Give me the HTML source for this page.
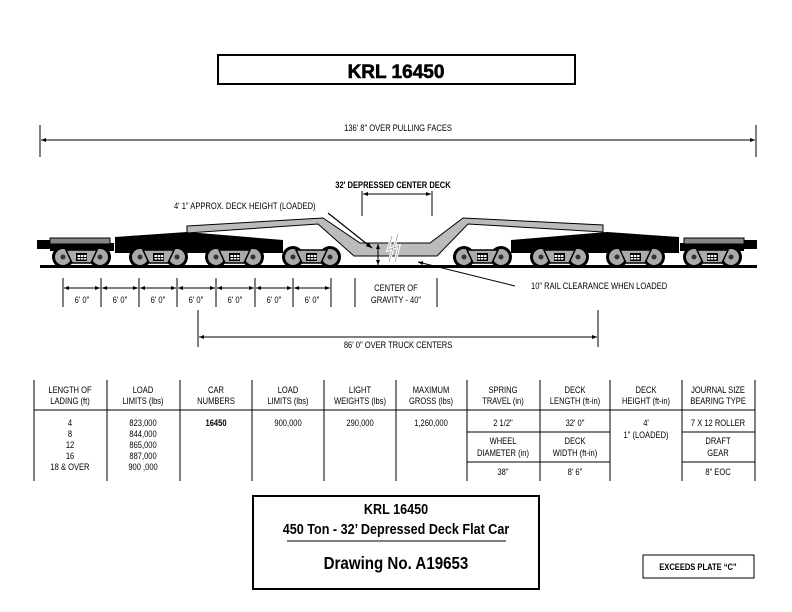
<!DOCTYPE html>
<html><head><style>
body{margin:0;background:#fff}
svg{display:block}
text{font-family:"Liberation Sans",sans-serif;fill:#000;transform-box:fill-box;transform-origin:center;transform:scaleX(.84)}
text.l{transform-origin:left center}
text.n{transform:none}
</style></head><body>
<svg width="792" height="612" viewBox="0 0 792 612" xmlns="http://www.w3.org/2000/svg">
<defs>
<marker id="a" viewBox="0 0 10 10" refX="10" refY="5" markerWidth="7" markerHeight="5" orient="auto-start-reverse"><path d="M0,1L10,5L0,9z" fill="#000"/></marker>
<g id="w">
<circle r="11" fill="#000"/><circle r="8" fill="#aaa"/><circle r="2.5" fill="#333"/>
</g>
<g id="t">
<use href="#w" x="0" y="0"/><use href="#w" x="37" y="0"/>
<path d="M3,-7 L34,-7 L28,6 L9,6 Z" fill="#aaa" stroke="#000" stroke-width="1.5"/>
<rect x="13" y="-4" width="11" height="8" fill="#000"/>
<rect x="14.5" y="-2" width="2.5" height="2" fill="#fff"/><rect x="17.7" y="-2" width="2.5" height="2" fill="#fff"/><rect x="20.9" y="-2" width="2.5" height="2" fill="#fff"/>
<rect x="14.5" y="1" width="2.5" height="1.5" fill="#fff"/><rect x="17.7" y="1" width="2.5" height="1.5" fill="#fff"/><rect x="20.9" y="1" width="2.5" height="1.5" fill="#fff"/>
</g>
<g id="half">
<rect x="37" y="240" width="20" height="9" fill="#000"/>
<rect x="50" y="243" width="64" height="8" fill="#000"/>
<rect x="50" y="238" width="60" height="6" fill="#888" stroke="#000" stroke-width="1"/>
<polygon points="115,237 187,232 283,240 283,253 115,253" fill="#000"/>
<use href="#t" x="63" y="257"/>
<use href="#t" x="140" y="257"/>
<use href="#t" x="216" y="257"/>
<use href="#t" x="293" y="257"/>
</g>
</defs>
<rect x="218" y="55" width="357" height="29" fill="#fff" stroke="#000" stroke-width="2"/>
<text class="n" x="396" y="78" font-weight="bold" font-size="19" text-anchor="middle" stroke="#000" stroke-width="0.6">KRL 16450</text>
<line x1="40" y1="125" x2="40" y2="157" stroke="#000"/>
<line x1="756" y1="125" x2="756" y2="157" stroke="#000"/>
<line x1="41" y1="140" x2="755" y2="140" stroke="#000" marker-start="url(#a)" marker-end="url(#a)"/>
<text x="398" y="131" font-size="9" text-anchor="middle">136' 8" OVER PULLING FACES</text>
<text x="393" y="188" font-size="9" font-weight="bold" text-anchor="middle">32' DEPRESSED CENTER DECK</text>
<line x1="362" y1="191" x2="362" y2="216" stroke="#000"/>
<line x1="432" y1="191" x2="432" y2="216" stroke="#000"/>
<line x1="363" y1="194" x2="431" y2="194" stroke="#000" marker-start="url(#a)" marker-end="url(#a)"/>
<text class="l" x="174" y="209" font-size="9">4' 1" APPROX. DECK HEIGHT (LOADED)</text>
<rect x="40" y="265" width="717" height="3" fill="#000"/>
<use href="#half"/>
<use href="#half" transform="translate(794,0) scale(-1,1)"/>
<polygon points="187,226 323,218 360,243 430,243 463,218 603,225 603,232 468,224 437,256 354,256 318,224 187,233" fill="#bbb" stroke="#000" stroke-width="1"/>
<line x1="328" y1="213" x2="372" y2="248" stroke="#000" stroke-width="1.2" marker-end="url(#a)"/>
<line x1="378" y1="244" x2="378" y2="265" stroke="#000" marker-start="url(#a)" marker-end="url(#a)"/>
<path d="M392,236 L388,250 L393,248 L389,262 M398,234 L394,248 L399,246 L395,262" stroke="#fff" stroke-width="3" fill="none"/>
<path d="M392,236 L388,250 L393,248 L389,262 M398,234 L394,248 L399,246 L395,262" stroke="#999" stroke-width="0.7" fill="none"/>
<line x1="515" y1="286" x2="418" y2="262" stroke="#000" marker-end="url(#a)"/>
<text class="l" x="531" y="289" font-size="9">10" RAIL CLEARANCE WHEN LOADED</text>
<g stroke="#000">
<line x1="63" y1="278" x2="63" y2="307"/><line x1="101" y1="278" x2="101" y2="307"/><line x1="139" y1="278" x2="139" y2="307"/><line x1="177" y1="278" x2="177" y2="307"/><line x1="216" y1="278" x2="216" y2="307"/><line x1="255" y1="278" x2="255" y2="307"/><line x1="293" y1="278" x2="293" y2="307"/><line x1="331" y1="278" x2="331" y2="307"/>
<line x1="355" y1="278" x2="355" y2="307"/><line x1="437" y1="278" x2="437" y2="307"/>
<line x1="64" y1="288" x2="100" y2="288" marker-start="url(#a)" marker-end="url(#a)"/>
<line x1="102" y1="288" x2="138" y2="288" marker-start="url(#a)" marker-end="url(#a)"/>
<line x1="140" y1="288" x2="176" y2="288" marker-start="url(#a)" marker-end="url(#a)"/>
<line x1="178" y1="288" x2="215" y2="288" marker-start="url(#a)" marker-end="url(#a)"/>
<line x1="217" y1="288" x2="254" y2="288" marker-start="url(#a)" marker-end="url(#a)"/>
<line x1="256" y1="288" x2="292" y2="288" marker-start="url(#a)" marker-end="url(#a)"/>
<line x1="294" y1="288" x2="330" y2="288" marker-start="url(#a)" marker-end="url(#a)"/>
</g>
<g font-size="9" text-anchor="middle">
<text x="82" y="303">6' 0"</text><text x="120" y="303">6' 0"</text><text x="158" y="303">6' 0"</text><text x="196" y="303">6' 0"</text><text x="235" y="303">6' 0"</text><text x="274" y="303">6' 0"</text><text x="312" y="303">6' 0"</text>
<text x="396" y="291">CENTER OF</text><text x="396" y="303">GRAVITY - 40"</text>
</g>
<line x1="198" y1="310" x2="198" y2="347" stroke="#000"/>
<line x1="598" y1="310" x2="598" y2="347" stroke="#000"/>
<line x1="199" y1="337" x2="597" y2="337" stroke="#000" marker-start="url(#a)" marker-end="url(#a)"/>
<text x="398" y="348" font-size="9" text-anchor="middle">86' 0" OVER TRUCK CENTERS</text>
<g stroke="#000" stroke-width="1">
<line x1="34" y1="380" x2="34" y2="481"/><line x1="107" y1="380" x2="107" y2="481"/><line x1="180" y1="380" x2="180" y2="481"/><line x1="252" y1="380" x2="252" y2="481"/><line x1="324" y1="380" x2="324" y2="481"/><line x1="396" y1="380" x2="396" y2="481"/><line x1="467" y1="380" x2="467" y2="481"/><line x1="540" y1="380" x2="540" y2="481"/><line x1="610" y1="380" x2="610" y2="481"/><line x1="682" y1="380" x2="682" y2="481"/><line x1="755" y1="380" x2="755" y2="481"/>
<line x1="34" y1="410" x2="755" y2="410"/>
<line x1="467" y1="432" x2="610" y2="432"/><line x1="682" y1="432" x2="755" y2="432"/>
<line x1="467" y1="462" x2="610" y2="462"/><line x1="682" y1="462" x2="755" y2="462"/>
</g>
<g font-size="9" text-anchor="middle">
<text x="70" y="393">LENGTH OF</text><text x="70" y="404">LADING (ft)</text>
<text x="143" y="393">LOAD</text><text x="143" y="404">LIMITS (lbs)</text>
<text x="216" y="393">CAR</text><text x="216" y="404">NUMBERS</text>
<text x="288" y="393">LOAD</text><text x="288" y="404">LIMITS (lbs)</text>
<text x="360" y="393">LIGHT</text><text x="360" y="404">WEIGHTS (lbs)</text>
<text x="431" y="393">MAXIMUM</text><text x="431" y="404">GROSS (lbs)</text>
<text x="503" y="393">SPRING</text><text x="503" y="404">TRAVEL (in)</text>
<text x="575" y="393">DECK</text><text x="575" y="404">LENGTH (ft-in)</text>
<text x="646" y="393">DECK</text><text x="646" y="404">HEIGHT (ft-in)</text>
<text x="718" y="393">JOURNAL SIZE</text><text x="718" y="404">BEARING TYPE</text>
<text x="70" y="426">4</text><text x="70" y="437">8</text><text x="70" y="448">12</text><text x="70" y="459">16</text><text x="70" y="470">18 &amp; OVER</text>
<text x="143" y="426">823,000</text><text x="143" y="437">844,000</text><text x="143" y="448">865,000</text><text x="143" y="459">887,000</text><text x="143" y="470">900 ,000</text>
<text x="216" y="426" font-weight="bold">16450</text>
<text x="288" y="426">900,000</text>
<text x="360" y="426">290,000</text>
<text x="431" y="426">1,260,000</text>
<text x="503" y="426">2 1/2"</text>
<text x="575" y="426">32' 0"</text>
<text x="646" y="426">4'</text><text x="646" y="438">1" (LOADED)</text>
<text x="718" y="426">7 X 12 ROLLER</text>
<text x="503" y="444">WHEEL</text><text x="503" y="456">DIAMETER (in)</text>
<text x="575" y="444">DECK</text><text x="575" y="456">WIDTH (ft-in)</text>
<text x="718" y="444">DRAFT</text><text x="718" y="456">GEAR</text>
<text x="503" y="475">38"</text><text x="575" y="475">8' 6"</text><text x="718" y="475">8" EOC</text>
</g>
<rect x="253" y="496" width="286" height="93" fill="#fff" stroke="#000" stroke-width="2"/>
<g font-weight="bold" text-anchor="middle">
<text x="396" y="514" font-size="15">KRL 16450</text>
<text x="396" y="534" font-size="15">450 Ton - 32’ Depressed Deck Flat Car</text>
<text x="396" y="569" font-size="18">Drawing No. A19653</text>
</g>
<line x1="287" y1="541" x2="506" y2="541" stroke="#000"/>
<rect x="643" y="555" width="111" height="23" fill="#fff" stroke="#000" stroke-width="1"/>
<text x="698" y="570" font-size="9" font-weight="bold" text-anchor="middle">EXCEEDS PLATE “C”</text>
</svg>
</body></html>
